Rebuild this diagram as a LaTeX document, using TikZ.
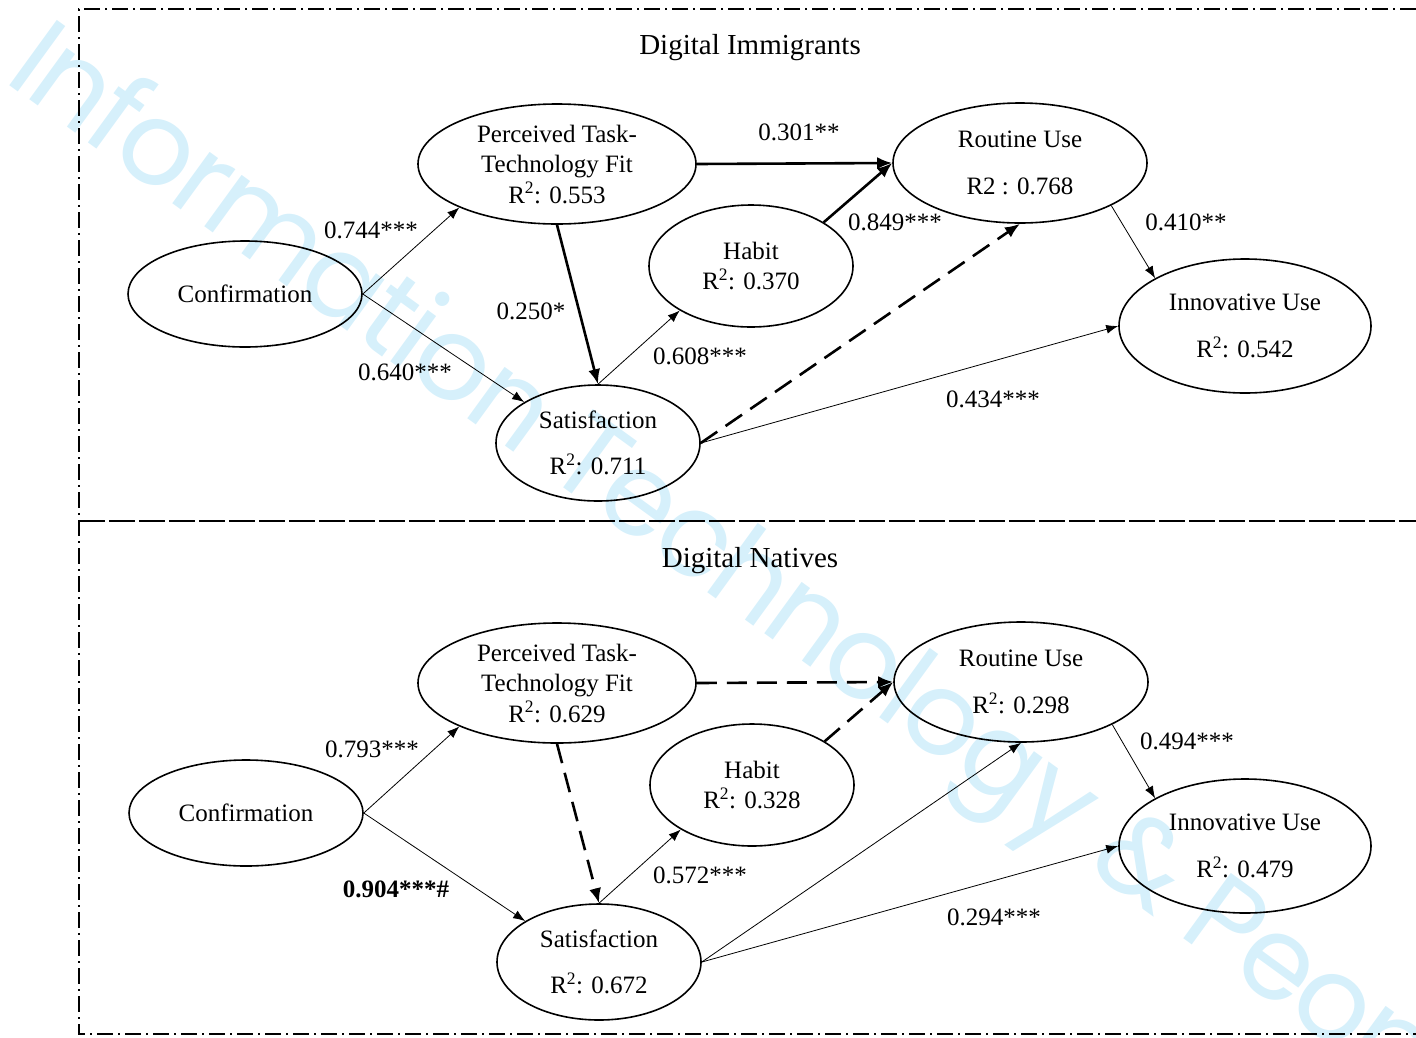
\documentclass[tikz,border=0pt]{standalone}
\usepackage{fontspec}
\setmainfont{Liberation Serif}
\newfontfamily\wmfont[LetterSpace=-3]{Poppins}
\usetikzlibrary{arrows.meta,shapes.geometric}
\definecolor{wmcol}{RGB}{214,240,251}
\begin{document}
\begin{tikzpicture}[x=1pt,y=-1pt,
  lat/.style={draw, ellipse, line width=1.6pt, inner sep=0pt, align=center,
    font=\fontsize{25}{30.5}\selectfont},
  lbl/.style={inner sep=0pt, font=\fontsize{25}{30}\selectfont},
  ttl/.style={inner sep=0pt, font=\fontsize{29}{34}\selectfont},
  thinarrow/.style={line width=0.8pt, -{Latex[length=12pt,width=9pt]}},
  thickarrow/.style={line width=2.6pt, -{Latex[length=15pt,width=12pt]}},
  dasharrow/.style={line width=2.6pt, dash pattern=on 20pt off 10pt, -{Latex[length=15pt,width=12pt]}},
  frameline/.style={line width=2pt, dash pattern=on 16pt off 5pt on 2pt off 5pt},
  midline/.style={line width=2pt, dash pattern=on 26pt off 4pt}
]
\useasboundingbox (0,0) rectangle (1416,1037);
% watermark
\begin{scope}
\clip (0,0) rectangle (1416,1037);
\node[anchor=base west, rotate=-36, inner sep=0pt, text=wmcol,
  font=\wmfont\fontsize{116}{120}\selectfont] (wm) at (2,80) {Information Technology \& People};
\end{scope}
% frame
\draw[frameline] (1416,9) -- (79,9) -- (79,1034) -- (1416,1034);
\draw[midline] (79,521) -- (1416,521);

% ---------- Digital Immigrants ----------
\node[ttl] (t1) at (750,48) {Digital Immigrants};
\node[lat, minimum width=234pt, minimum height=106pt] (conf1) at (245,294) {Confirmation};
\node[lat, minimum width=278pt, minimum height=120pt] (ttf1) at (557,164) {Perceived Task-\\Technology Fit\\R\textsuperscript{2}: 0.553};
\node[lat, minimum width=204pt, minimum height=122pt] (hab1) at (751,266) {Habit\\R\textsuperscript{2}: 0.370};
\node[lat, minimum width=254pt, minimum height=120pt] (rou1) at (1020,163) {Routine Use\\[16pt]R2 : 0.768};
\node[lat, minimum width=252pt, minimum height=134pt] (inn1) at (1245,326) {Innovative Use\\[16pt]R\textsuperscript{2}: 0.542};
\node[lat, minimum width=204pt, minimum height=116pt] (sat1) at (598,443) {Satisfaction\\[16pt]R\textsuperscript{2}: 0.711};

\draw[thinarrow] (conf1.east) -- (ttf1.204);
\draw[thinarrow] (conf1.east) -- (sat1.151);
\draw[thickarrow] (ttf1.south) -- (sat1.north);
\draw[thinarrow] (sat1.north) -- (hab1.212);
\draw[thickarrow] (ttf1.east) -- (rou1.west);
\draw[thickarrow] (hab1.31) -- (rou1.west);
\draw[dasharrow] (sat1.east) -- (rou1.south);
\draw[thinarrow] (sat1.east) -- (inn1.west);
\draw[thinarrow] (rou1.-25) -- (inn1.152);

\node[lbl] (l11) at (371,230) {0.744***};
\node[lbl] (l12) at (405,372) {0.640***};
\node[lbl] (l13) at (531,311) {0.250*};
\node[lbl] (l14) at (700,356) {0.608***};
\node[lbl] (l15) at (799,132) {0.301**};
\node[lbl] (l16) at (895,222) {0.849***};
\node[lbl] (l17) at (993,399) {0.434***};
\node[lbl] (l18) at (1186,222) {0.410**};

% ---------- Digital Natives ----------
\node[ttl] (t2) at (750,561) {Digital Natives};
\node[lat, minimum width=234pt, minimum height=106pt] (conf2) at (246,813) {Confirmation};
\node[lat, minimum width=278pt, minimum height=120pt] (ttf2) at (557,683) {Perceived Task-\\Technology Fit\\R\textsuperscript{2}: 0.629};
\node[lat, minimum width=204pt, minimum height=122pt] (hab2) at (752,785) {Habit\\R\textsuperscript{2}: 0.328};
\node[lat, minimum width=254pt, minimum height=120pt] (rou2) at (1021,682) {Routine Use\\[16pt]R\textsuperscript{2}: 0.298};
\node[lat, minimum width=252pt, minimum height=134pt] (inn2) at (1245,846) {Innovative Use\\[16pt]R\textsuperscript{2}: 0.479};
\node[lat, minimum width=204pt, minimum height=116pt] (sat2) at (599,962) {Satisfaction\\[16pt]R\textsuperscript{2}: 0.672};

\draw[thinarrow] (conf2.east) -- (ttf2.204);
\draw[thinarrow] (conf2.east) -- (sat2.151);
\draw[dasharrow] (ttf2.south) -- (sat2.north);
\draw[thinarrow] (sat2.north) -- (hab2.212);
\draw[dasharrow] (ttf2.east) -- (rou2.west);
\draw[dasharrow] (hab2.31) -- (rou2.west);
\draw[thinarrow] (sat2.east) -- (rou2.south);
\draw[thinarrow] (sat2.east) -- (inn2.west);
\draw[thinarrow] (rou2.-25) -- (inn2.152);

\node[lbl] (l21) at (372,749) {0.793***};
\node[lbl, font=\fontsize{25}{30}\selectfont\bfseries] (l22) at (396,889) {0.904***\#};
\node[lbl] (l23) at (700,875) {0.572***};
\node[lbl] (l24) at (994,917) {0.294***};
\node[lbl] (l25) at (1187,741) {0.494***};
\end{tikzpicture}
\end{document}
